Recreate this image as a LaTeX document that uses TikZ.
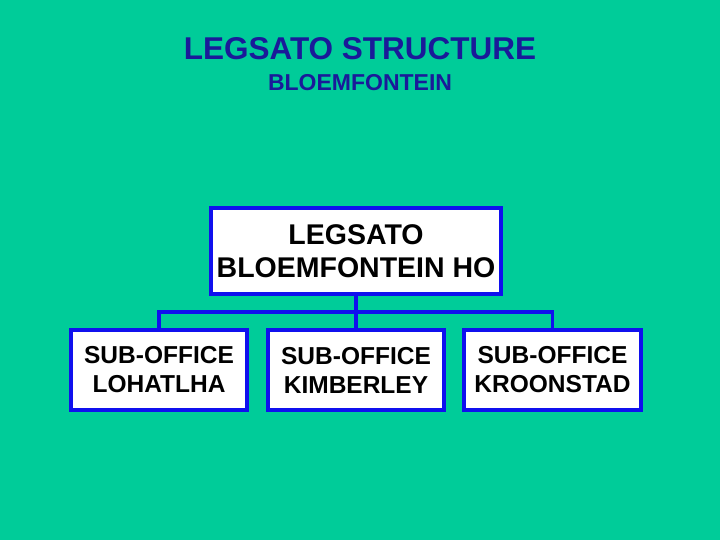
\documentclass[tikz,border=0pt]{standalone}
\usepackage{fontspec}
\setmainfont{Liberation Sans}
\definecolor{bg}{HTML}{00CC99}
\definecolor{tblue}{HTML}{1A1A99}
\definecolor{bblue}{HTML}{1010EE}
\begin{document}
\begin{tikzpicture}[x=1pt,y=-1pt,
  box/.style={draw=bblue,line width=3.5pt,fill=white,align=center,font=\bfseries\fontsize{24.5}{29}\selectfont,text=black,inner sep=0pt},
  conn/.style={draw=bblue,line width=3.5pt}]
\fill[bg] (0,0) rectangle (720,540);
\useasboundingbox (0,0) rectangle (720,540);
\node[text=tblue,font=\bfseries\fontsize{31.5}{34}\selectfont] (t1) at (360,49) {LEGSATO STRUCTURE};
\node[text=tblue,font=\bfseries\fontsize{23}{26}\selectfont] (t2) at (360,83) {BLOEMFONTEIN};
\node[box,font=\bfseries\fontsize{28.5}{33}\selectfont,minimum width=290pt,minimum height=86pt] (ho) at (356,251) {LEGSATO\\BLOEMFONTEIN HO};
\node[box,minimum width=176pt,minimum height=80pt] (s1) at (159,370) {SUB-OFFICE\\LOHATLHA};
\node[box,minimum width=176pt,minimum height=80pt] (s2) at (356,370) {SUB-OFFICE\\KIMBERLEY};
\node[box,minimum width=177pt,minimum height=80pt] (s3) at (552.5,370) {SUB-OFFICE\\KROONSTAD};
\coordinate (j) at (356,312);
\draw[conn] (ho.south) -- (j);
\draw[conn] (s1.north) -- (s1.north |- j) -- (s3.north |- j) -- (s3.north);
\draw[conn] (j) -- (s2.north);
\end{tikzpicture}
\end{document}
